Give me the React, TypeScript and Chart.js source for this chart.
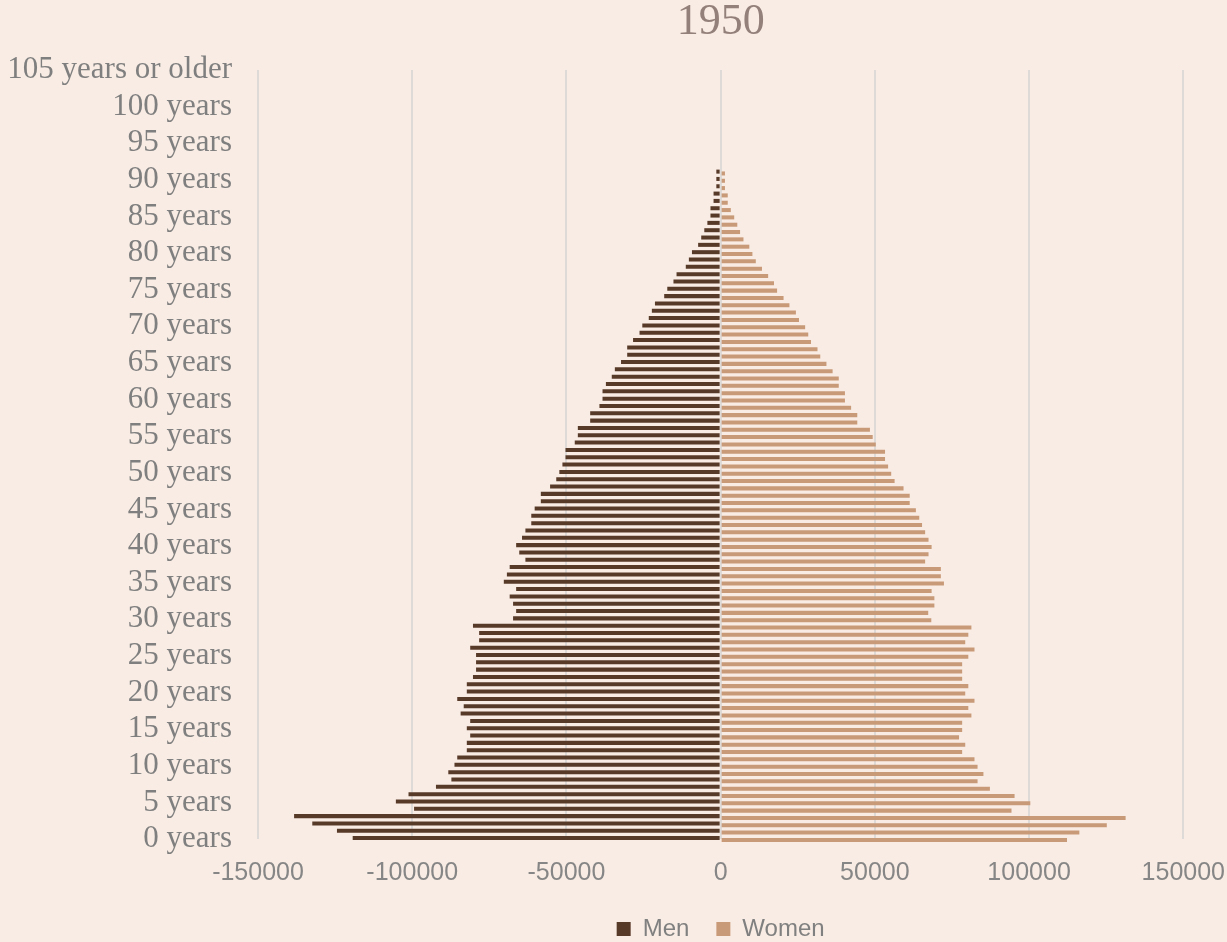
import React, { useEffect, useRef } from "react";
import { Chart, registerables } from "chart.js";

Chart.register(...registerables);

const chartTitle = "1950";
const seriesNames = ["Men", "Women"];
const ageLabels: string[] = Array.from({ length: 106 }, (_, i) =>
  i === 105 ? "105 years or older" : `${i} years`
);

// index = age (0 .. 105)
const menValues = [
  -119300, -124400, -132400, -138300, -99400, -105300, -101200, -92300, -87300, -88300,
  -86300, -85400, -82300, -82300, -81200, -82300, -81200, -84300, -83300, -85400,
  -82300, -82300, -80300, -79300, -79300, -79300, -81200, -78300, -78300, -80300,
  -67300, -66300, -67300, -68400, -66300, -70300, -69300, -68400, -63300, -65300,
  -66300, -64400, -63300, -61400, -61400, -60300, -58300, -58300, -55300, -53300,
  -52300, -51300, -50300, -50300, -47300, -46300, -46300, -42300, -42300, -39300,
  -38300, -38300, -37200, -35300, -34300, -32300, -30300, -30300, -28400, -26300,
  -25400, -23300, -22300, -21300, -18300, -17300, -15300, -14300, -11300, -10300,
  -9300, -7300, -6300, -5300, -4300, -3300, -3300, -2300, -2300, -1400,
  -1400, -1400, 0, 0, 0, 0, 0, 0, 0, 0,
  0, 0, 0, 0, 0, 0,
];

const womenValues = [
  112300, 116300, 125200, 131300, 94300, 100400, 95300, 87300, 83300, 85200,
  83300, 82300, 78300, 79300, 77300, 78300, 78300, 81300, 80300, 82300,
  79300, 80300, 78300, 78300, 78300, 80300, 82300, 79300, 80300, 81300,
  68300, 67300, 69300, 69300, 68400, 72400, 71400, 71400, 66300, 67400,
  68400, 67400, 66300, 65300, 64400, 63300, 61300, 61300, 59300, 56400,
  55300, 54300, 53300, 53300, 50300, 49300, 48400, 44300, 44300, 42300,
  40300, 40300, 38300, 38300, 36300, 34300, 32300, 31400, 29300, 28400,
  27400, 25400, 24400, 22300, 20400, 18300, 17300, 15400, 13400, 11400,
  10300, 9300, 7400, 6300, 5400, 4400, 3300, 2300, 2300, 1400,
  1400, 1400, 0, 0, 0, 0, 0, 0, 0, 0,
  0, 0, 0, 0, 0, 0,
];

const xMin = -150000;
const xMax = 150000;
const xStep = 50000;
const labelEvery = 5;

const BG = "#f8ece4";
const MEN_COLOR = "#583a29";
const WOMEN_COLOR = "#c99a78";

export default function App() {
  const canvasRef = useRef<HTMLCanvasElement | null>(null);

  useEffect(() => {
    document.body.style.margin = "0";
    document.body.style.background = BG;
    const canvas = canvasRef.current;
    if (!canvas) return;
    const chart = new Chart(canvas, {
      type: "bar",
      data: {
        labels: ageLabels,
        datasets: [
          {
            label: seriesNames[0],
            data: menValues,
            backgroundColor: MEN_COLOR,
            borderWidth: 0,
            categoryPercentage: 0.5,
            barPercentage: 2.2,
            clip: false as any,
          },
          {
            label: seriesNames[1],
            data: womenValues,
            backgroundColor: WOMEN_COLOR,
            borderWidth: 0,
            categoryPercentage: 0.5,
            barPercentage: 2.2,
            clip: false as any,
          },
        ],
      },
      options: {
        indexAxis: "y",
        animation: false,
        responsive: true,
        maintainAspectRatio: false,
        layout: { padding: { top: 0, left: 0, right: 0, bottom: -9 } },
        scales: {
          x: {
            type: "linear",
            min: xMin,
            max: xMax,
            grid: {
              color: "#dedad8",
              lineWidth: 2,
              drawTicks: true,
              tickLength: 17,
              tickColor: "rgba(0,0,0,0)",
            },
            border: { display: false },
            ticks: {
              stepSize: xStep,
              padding: 2,
              color: "#868686",
              font: { family: "'Liberation Sans', Arial, sans-serif", size: 25 },
              callback: (v: any) => String(v),
            },
          },
          y: {
            type: "category",
            reverse: true,
            offset: false,
            grid: { display: false, drawTicks: false },
            border: { display: false },
            ticks: {
              autoSkip: false,
              padding: 26,
              color: "#7f7f7f",
              font: { family: "'Liberation Serif', 'DejaVu Serif', serif", size: 31 },
              callback: (v: any) => (Number(v) % labelEvery === 0 ? ageLabels[Number(v)] : null),
            },
            afterFit: (scale: any) => {
              scale.width = 258;
            },
          },
        },
        plugins: {
          title: {
            display: true,
            text: chartTitle,
            fullSize: false,
            color: "#94807a",
            font: {
              family: "'Liberation Serif', 'DejaVu Serif', serif",
              size: 44,
              weight: "normal",
              lineHeight: 1,
            },
            padding: { top: 0, bottom: 26 },
          },
          legend: {
            display: true,
            position: "bottom",
            fullSize: false,
            labels: {
              boxWidth: 14,
              boxHeight: 14,
              padding: 27,
              color: "#808080",
              font: { family: "'Liberation Sans', Arial, sans-serif", size: 24 },
            },
          },
          tooltip: { enabled: false },
        },
      },
    });
    return () => chart.destroy();
  }, []);

  return (
    <div style={{ width: 1227, height: 942, background: BG, position: "relative" }}>
      <canvas ref={canvasRef} />
    </div>
  );
}
